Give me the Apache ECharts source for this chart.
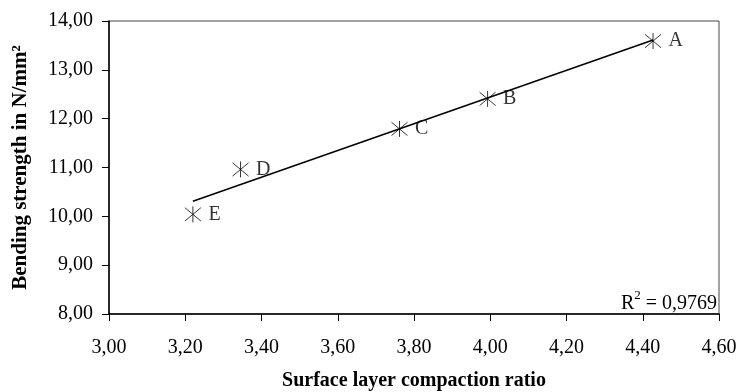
<!DOCTYPE html>
<html>
<head>
<meta charset="utf-8">
<script src="https://cdn.jsdelivr.net/npm/echarts@6/dist/echarts.min.js"></script>
<style>
  html, body { margin: 0; padding: 0; background: #fff; }
  #chart { width: 739px; height: 392px; }
</style>
</head>
<body>
<div id="chart"></div>
<script>
// measured samples
const sampleNames = ["A", "B", "C", "D", "E"];
const compaction = [4.427, 3.993, 3.762, 3.345, 3.22];
const strength = [13.59, 12.405, 11.79, 10.96, 10.04];
// linear trend line end points
const trendX = [3.22, 4.427];
const trendY = [10.31, 13.61];
const rSquared = "0,9769";

const font = "Liberation Serif";
const comma = (v, d) => v.toFixed(d).replace(".", ",");

const chart = echarts.init(document.getElementById("chart"));

const starPath = "path://M0,0 L10,10 M10,0 L0,10 M5,-1 L5,11";

chart.setOption({
  animation: false,
  grid: {
    left: 109, right: 20, top: 21, bottom: 78,
    outerBoundsMode: "none",
    containLabel: false,
    show: true, borderColor: "#444", borderWidth: 1
  },
  xAxis: {
    type: "value",
    min: 3, max: 4.6, interval: 0.2,
    name: "Surface layer compaction ratio",
    nameLocation: "middle",
    nameGap: 57,
    nameTextStyle: { fontFamily: font, fontSize: 20, fontWeight: "bold", color: "#000" },
    axisLine: { lineStyle: { color: "#000", width: 1.5 } },
    axisTick: { show: true, length: 7, lineStyle: { color: "#000" } },
    axisLabel: { margin: 24, fontFamily: font, fontSize: 20, color: "#000", formatter: v => comma(v, 2) },
    splitLine: { show: false }
  },
  yAxis: {
    type: "value",
    min: 8, max: 14, interval: 1,
    name: "Bending strength in N/mm²",
    nameLocation: "middle",
    nameGap: 78,
    nameTextStyle: { fontFamily: font, fontSize: 21, fontWeight: "bold", color: "#000" },
    axisLine: { show: true, lineStyle: { color: "#000", width: 1.5 } },
    axisTick: { show: true, length: 7, lineStyle: { color: "#000" } },
    axisLabel: { margin: 16, fontFamily: font, fontSize: 20, color: "#000", formatter: v => comma(v, 2) },
    splitLine: { show: false }
  },
  series: [
    {
      name: "Trend",
      type: "line",
      data: trendX.map((x, i) => [x, trendY[i]]),
      symbol: "none",
      lineStyle: { color: "#000", width: 1.5 },
      z: 2
    },
    {
      name: "Samples",
      type: "scatter",
      data: compaction.map((x, i) => ({ value: [x, strength[i]], name: sampleNames[i] })),
      symbol: starPath,
      symbolSize: 16,
      itemStyle: { color: "none", borderColor: "#000", borderWidth: 1 },
      label: {
        show: true,
        position: "right",
        distance: 5,
        formatter: p => p.name,
        fontFamily: font,
        fontSize: 20,
        color: "#000"
      },
      z: 3
    }
  ],
  graphic: [
    {
      type: "text",
      right: 22,
      top: 289,
      style: {
        text: "{a|R}{s|2}{a| = " + rSquared + "}",
        fontFamily: font,
        fill: "#000",
        rich: {
          a: { fontFamily: font, fontSize: 20, color: "#000", verticalAlign: "bottom" },
          s: { fontFamily: font, fontSize: 13, color: "#000", verticalAlign: "top", padding: [0, 0, 12, 0] }
        }
      }
    }
  ]
});
</script>
</body>
</html>
